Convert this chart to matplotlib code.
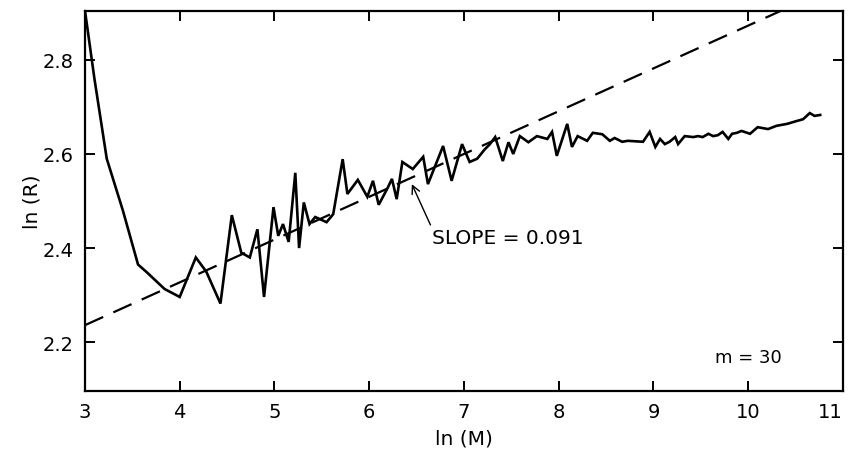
import matplotlib
matplotlib.use("Agg")
import matplotlib.pyplot as plt

# values
ln_m = [3.00, 3.10, 3.23, 3.40, 3.56, 3.65, 3.84, 4.00, 4.17, 4.28, 4.43, 4.55,
        4.65, 4.74, 4.82, 4.89, 4.99, 5.04, 5.09, 5.15, 5.22, 5.26,
        5.31, 5.37, 5.43, 5.55, 5.62, 5.72, 5.77, 5.88, 5.98, 6.04,
        6.10, 6.19, 6.24, 6.29, 6.35, 6.46, 6.57, 6.62, 6.78, 6.87,
        6.98, 7.06, 7.14, 7.22, 7.27, 7.33, 7.41, 7.47, 7.52, 7.59,
        7.68, 7.77, 7.88, 7.93, 7.98, 8.09, 8.14, 8.20, 8.30, 8.36,
        8.46, 8.54, 8.59, 8.67, 8.73, 8.89, 8.96, 9.02, 9.07, 9.12,
        9.17, 9.23, 9.26, 9.33, 9.42, 9.47, 9.52, 9.58, 9.63, 9.68,
        9.73, 9.79, 9.83, 9.88, 9.93, 10.02, 10.10, 10.21, 10.30, 10.41,
        10.51, 10.58, 10.65, 10.70, 10.76]
ln_r = [2.905, 2.760, 2.590, 2.480, 2.365, 2.349, 2.313, 2.296, 2.380, 2.350, 2.282, 2.470,
        2.390, 2.380, 2.440, 2.296, 2.487, 2.426, 2.451, 2.413, 2.560, 2.400,
        2.497, 2.451, 2.466, 2.455, 2.472, 2.589, 2.515, 2.545, 2.509, 2.543,
        2.492, 2.526, 2.547, 2.504, 2.583, 2.568, 2.594, 2.536, 2.617, 2.543,
        2.621, 2.583, 2.590, 2.610, 2.620, 2.636, 2.585, 2.625, 2.600, 2.638,
        2.625, 2.638, 2.632, 2.647, 2.596, 2.664, 2.615, 2.638, 2.628, 2.645,
        2.642, 2.628, 2.634, 2.626, 2.628, 2.626, 2.647, 2.615, 2.632, 2.621,
        2.626, 2.636, 2.621, 2.638, 2.636, 2.638, 2.636, 2.643, 2.638, 2.640,
        2.647, 2.632, 2.643, 2.645, 2.649, 2.643, 2.657, 2.653, 2.660, 2.664,
        2.670, 2.674, 2.687, 2.681, 2.683]

# fitted line, slope 0.091
fit_x = [3.0, 11.0]
fit_y = [2.236, 2.964]

x_ticks = [3, 4, 5, 6, 7, 8, 9, 10, 11]
y_ticks = [2.2, 2.4, 2.6, 2.8]

plt.rcParams['font.family'] = ['DejaVu Sans']

fig = plt.figure(figsize=(8.53, 4.52), dpi=100)
ax = fig.add_axes([0.0996, 0.1327, 0.8886, 0.8407])

ax.plot(ln_m, ln_r, color='black', lw=1.9, solid_joinstyle='miter')
ax.plot(fit_x, fit_y, color='black', lw=1.6, dashes=(9, 5))

ax.set_xlim(3, 11)
ax.set_ylim(2.096, 2.904)
ax.set_xticks(x_ticks)
ax.set_xticklabels([str(t) for t in x_ticks])
ax.set_yticks(y_ticks)
ax.set_yticklabels([f"{t:.1f}" for t in y_ticks])

ax.tick_params(direction='in', length=7, width=1.4, top=True, right=True,
               labelsize=14, pad=8)
for s in ax.spines.values():
    s.set_linewidth(1.6)
# keep the last label inside the canvas
ax.get_xticklabels()[-1].set_horizontalalignment('right')
ax.get_xticklabels()[-1].set_x(11.05)

ax.set_xlabel("ln (M)", fontsize=14.5, labelpad=5)
ax.set_ylabel("ln (R)", fontsize=14.5, labelpad=1)

ax.annotate("SLOPE = 0.091", xy=(6.45, 2.536), xytext=(6.66, 2.423),
            fontsize=14.5, va='center', ha='left',
            arrowprops=dict(arrowstyle='->', color='black', lw=1.0,
                            shrinkA=0, shrinkB=0, relpos=(0, 1)))
ax.text(9.65, 2.168, "m = 30", fontsize=13, va='center', ha='left')

fig.savefig("out.png", dpi=100)
